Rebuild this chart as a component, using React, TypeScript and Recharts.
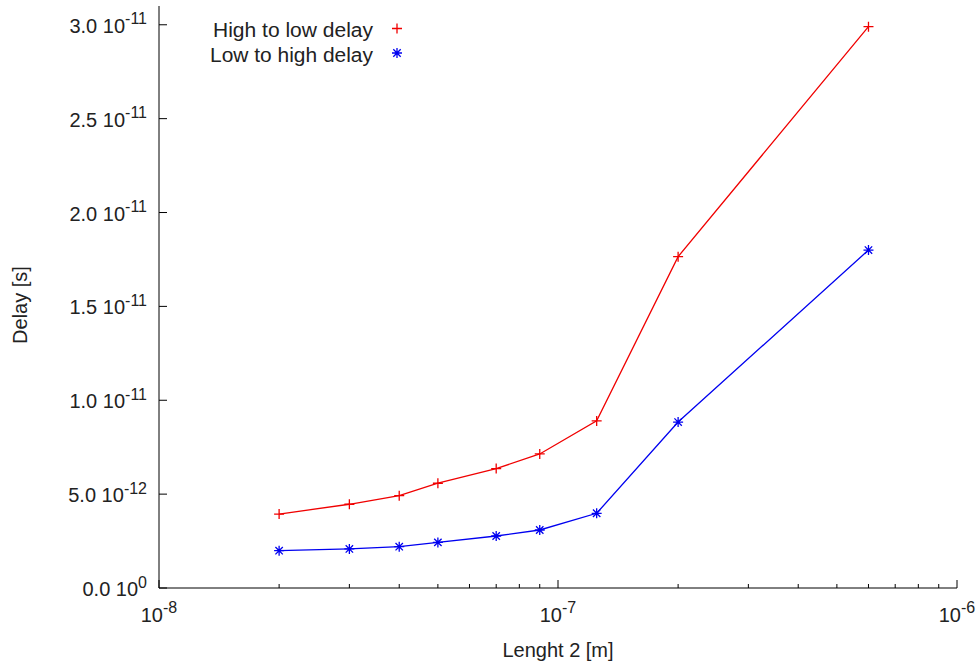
import React from 'react';
import { LineChart, Line, XAxis, YAxis, Legend } from 'recharts';

// Data
const lengths = [2e-8, 3e-8, 4e-8, 5e-8, 7e-8, 9e-8, 1.25e-7, 2e-7, 6e-7];
const highToLowDelay = [3.94e-12, 4.46e-12, 4.92e-12, 5.58e-12, 6.36e-12, 7.14e-12, 8.9e-12, 1.765e-11, 2.99e-11];
const lowToHighDelay = [1.99e-12, 2.08e-12, 2.2e-12, 2.43e-12, 2.77e-12, 3.09e-12, 3.98e-12, 8.84e-12, 1.8e-11];

const seriesNames = ['High to low delay', 'Low to high delay'];
const seriesColors = ['#f00000', '#0000f0'];

const xTicks = [
  1e-8, 2e-8, 3e-8, 4e-8, 5e-8, 6e-8, 7e-8, 8e-8, 9e-8,
  1e-7, 2e-7, 3e-7, 4e-7, 5e-7, 6e-7, 7e-7, 8e-7, 9e-7,
  1e-6,
];
const yTicks = [0, 5e-12, 1e-11, 1.5e-11, 2e-11, 2.5e-11, 3e-11];
const xDomain = [1e-8, 1e-6];
const yDomain = [0, 3.1e-11];

const xLabel = 'Lenght 2 [m]';
const yLabel = 'Delay [s]';

const data = lengths.map((x, i) => ({ x, h: highToLowDelay[i], l: lowToHighDelay[i] }));

const FONT = '"Liberation Sans", Arial, Helvetica, sans-serif';
const FS = 20;
const SUP = 16;

const isMajor = (v: number) => {
  const lg = Math.log10(v);
  return Math.abs(lg - Math.round(lg)) < 1e-6;
};

const XTickBottom = (props: any) => {
  const { x, y, payload } = props;
  const v = payload.value;
  const major = isMajor(v);
  const e = Math.round(Math.log10(v));
  return (
    <g>
      <line x1={x} x2={x} y1={y} y2={y - (major ? 8 : 4)} stroke="#000" strokeWidth={1} />
      {major && (
        <text x={x} y={y + 34} textAnchor="middle" fontFamily={FONT} fontSize={FS} fill="#222">
          10<tspan dy={-9} fontSize={SUP}>{String(e)}</tspan>
        </text>
      )}
    </g>
  );
};

const XTickTop = (props: any) => {
  const { x, y, payload } = props;
  const major = isMajor(payload.value);
  return <line x1={x} x2={x} y1={y} y2={y + (major ? 8 : 4)} stroke="#000" strokeWidth={1} />;
};

const YTickLeft = (props: any) => {
  const { x, y, payload } = props;
  const v = payload.value as number;
  let mant = '0.0';
  let exp = '0';
  if (v !== 0) {
    const e = Math.floor(Math.log10(v) + 1e-9);
    mant = (v / Math.pow(10, e)).toFixed(1);
    exp = String(e);
  }
  return (
    <g>
      <line x1={x} x2={x + 8} y1={y} y2={y} stroke="#000" strokeWidth={1} />
      <text x={x - 12} y={y + 8} textAnchor="end" fontFamily={FONT} fontSize={FS} fill="#222">
        {mant} 10<tspan dy={-8.5} fontSize={SUP}>{exp}</tspan>
      </text>
    </g>
  );
};

const YTickRight = (props: any) => {
  const { x, y } = props;
  return <line x1={x} x2={x - 8} y1={y} y2={y} stroke="#000" strokeWidth={1} />;
};

const PlusMark = ({ cx, cy, color }: any) => (
  <path d={`M${cx - 5},${cy}H${cx + 5}M${cx},${cy - 5}V${cy + 5}`} stroke={color} strokeWidth={1.3} fill="none" />
);

const StarMark = ({ cx, cy, color }: any) => (
  <path
    d={`M${cx - 5},${cy}H${cx + 5}M${cx},${cy - 5}V${cy + 5}M${cx - 3.7},${cy - 3.7}L${cx + 3.7},${cy + 3.7}M${cx - 3.7},${cy + 3.7}L${cx + 3.7},${cy - 3.7}`}
    stroke={color}
    strokeWidth={1.3}
    fill="none"
  />
);

const PlusDot = (props: any) => {
  if (props.cx == null || props.cy == null) return null;
  return <PlusMark key={props.key} cx={props.cx} cy={props.cy} color={seriesColors[0]} />;
};
const StarDot = (props: any) => {
  if (props.cx == null || props.cy == null) return null;
  return <StarMark key={props.key} cx={props.cx} cy={props.cy} color={seriesColors[1]} />;
};

const LegendContent = () => (
  <svg width={420} height={70} style={{ display: 'block' }}>
    <text x={373} y={37} textAnchor="end" fontFamily={FONT} fontSize={FS} fill="#222" textLength={160} lengthAdjust="spacingAndGlyphs">
      {seriesNames[0]}
    </text>
    <PlusMark cx={397} cy={28.5} color={seriesColors[0]} />
    <text x={373} y={61.5} textAnchor="end" fontFamily={FONT} fontSize={FS} fill="#222" textLength={163} lengthAdjust="spacingAndGlyphs">
      {seriesNames[1]}
    </text>
    <StarMark cx={397} cy={53} color={seriesColors[1]} />
  </svg>
);

const YLabelContent = () => (
  <text x={27} y={305} transform="rotate(-90 27 305)" textAnchor="middle" fontFamily={FONT} fontSize={FS} fill="#222">
    {yLabel}
  </text>
);

const XLabelContent = () => (
  <text x={558} y={657} textAnchor="middle" fontFamily={FONT} fontSize={FS} fill="#222">
    {xLabel}
  </text>
);

export default function App() {
  return (
    <div style={{ position: 'absolute', left: 0, top: 0, width: 979, height: 666, background: '#fff' }}>
      <LineChart width={979} height={666} data={data} margin={{ top: 6, right: 22, bottom: 0, left: 0 }}>
        <XAxis
          xAxisId="b"
          dataKey="x"
          type="number"
          scale="log"
          domain={xDomain}
          allowDataOverflow
          ticks={xTicks}
          interval={0}
          tickSize={0}
          tickMargin={0}
          tickLine={false}
          axisLine={{ stroke: '#000', strokeWidth: 1 }}
          tick={<XTickBottom />}
          height={78}
          label={<XLabelContent />}
        />
        <XAxis
          xAxisId="t"
          orientation="top"
          dataKey="x"
          type="number"
          scale="log"
          domain={xDomain}
          allowDataOverflow
          ticks={xTicks}
          interval={0}
          tickSize={0}
          tickMargin={0}
          tickLine={false}
          axisLine={{ stroke: '#000', strokeWidth: 1 }}
          tick={<XTickTop />}
          height={0}
        />
        <YAxis
          yAxisId="l"
          type="number"
          domain={yDomain}
          allowDataOverflow
          ticks={yTicks}
          interval={0}
          tickSize={0}
          tickMargin={0}
          tickLine={false}
          axisLine={{ stroke: '#000', strokeWidth: 1 }}
          tick={<YTickLeft />}
          width={159}
          label={<YLabelContent />}
        />
        <YAxis
          yAxisId="r"
          orientation="right"
          type="number"
          domain={yDomain}
          allowDataOverflow
          ticks={yTicks}
          interval={0}
          tickSize={0}
          tickMargin={0}
          tickLine={false}
          axisLine={{ stroke: '#000', strokeWidth: 1 }}
          tick={<YTickRight />}
          width={0}
        />
        <Legend
          layout="vertical"
          align="center"
          verticalAlign="middle"
          wrapperStyle={{ position: 'absolute', left: 0, top: 0, width: 420, height: 70 }}
          content={<LegendContent />}
        />
        <Line
          xAxisId="b"
          yAxisId="l"
          dataKey="h"
          name={seriesNames[0]}
          stroke={seriesColors[0]}
          strokeWidth={1.3}
          dot={<PlusDot />}
          activeDot={false}
          isAnimationActive={false}
        />
        <Line
          xAxisId="b"
          yAxisId="l"
          dataKey="l"
          name={seriesNames[1]}
          stroke={seriesColors[1]}
          strokeWidth={1.3}
          dot={<StarDot />}
          activeDot={false}
          isAnimationActive={false}
        />
      </LineChart>
    </div>
  );
}
